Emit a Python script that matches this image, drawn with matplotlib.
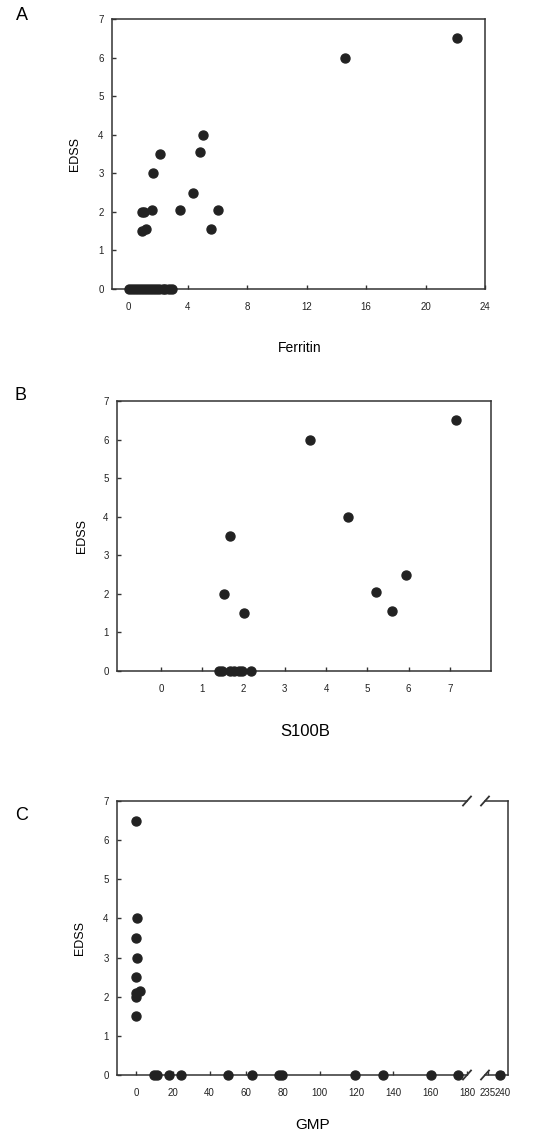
import matplotlib
matplotlib.use("Agg")
import matplotlib.pyplot as plt

# ---- data ----
ferritin = [14.6, 22.1, 5.05, 4.85, 2.15, 1.68, 4.33, 3.48, 6.05, 1.57, 0.9, 1.08, 0.9, 1.17, 5.56,
            0.05, 0.25, 0.45, 0.65, 0.85, 1.05, 1.25, 1.45, 1.65, 1.85, 2.05, 2.3, 2.5, 2.75, 2.95]
edss_a = [6.0, 6.5, 4.0, 3.55, 3.5, 3.0, 2.5, 2.05, 2.05, 2.05, 2.0, 2.0, 1.5, 1.55, 1.55,
          0, 0, 0, 0, 0, 0, 0, 0, 0, 0, 0, 0, 0, 0, 0]

s100b = [3.62, 7.16, 4.53, 1.68, 1.52, 2.02, 5.21, 5.61, 5.93,
         1.4, 1.48, 1.66, 1.76, 1.88, 1.96, 2.18]
edss_b = [6.0, 6.5, 4.0, 3.5, 2.0, 1.5, 2.05, 1.55, 2.5,
          0, 0, 0, 0, 0, 0, 0]

gmp = [0, 0.4, 0, 0.7, 0, 0, 0, 0.3, 2.2,
       9.8, 11.6, 18.1, 24.5, 50.3, 63.0, 78.0, 79.5, 118.9, 134.3, 160.4, 175.0, 239.0]
edss_c = [6.5, 4.0, 3.5, 3.0, 2.5, 2.0, 1.5, 2.1, 2.15,
          0, 0, 0, 0, 0, 0, 0, 0, 0, 0, 0, 0, 0]

ticks_a = [0, 4, 8, 12, 16, 20, 24]
ticks_b = [0, 1, 2, 3, 4, 5, 6, 7]
ticks_c1 = [0, 20, 40, 60, 80, 100, 120, 140, 160, 180]
ticks_c2 = [235, 240]
yticks = [0, 1, 2, 3, 4, 5, 6, 7]
break_at = 180

W, H = 554, 1145
fig = plt.figure(figsize=(W / 100, H / 100), dpi=100)
plt.rcParams['font.family'] = ['Liberation Sans', 'DejaVu Sans']

mc = '#222222'
ms = 42
sc = '#333333'


def px_axes(l, t, r, b):
    return fig.add_axes([l / W, 1 - b / H, (r - l) / W, (b - t) / H])


def style(ax):
    for s in ax.spines.values():
        s.set_color(sc)
        s.set_linewidth(1.1)
    ax.tick_params(direction='in', length=3, width=1, colors=sc, labelsize=7,
                   labelcolor='#222222', top=False, right=False)
    ax.tick_params(axis='x', pad=9)
    ax.tick_params(axis='y', pad=6)
    ax.set_ylim(0, 7)
    ax.set_yticks(yticks)


# Panel A
axA = px_axes(112, 19, 485, 289)
style(axA)
axA.scatter(ferritin, edss_a, s=ms, color=mc, zorder=3, clip_on=False)
axA.set_xlim(-1.1, 24)
axA.set_xticks(ticks_a)
fig.text(75 / W, 1 - 154 / H, 'EDSS', rotation=90, ha='center', va='center', fontsize=9)
fig.text(300 / W, 1 - 348 / H, 'Ferritin', ha='center', va='center', fontsize=10)
fig.text(22 / W, 1 - 16 / H, 'A', ha='center', va='center', fontsize=13)

# Panel B
axB = px_axes(117, 401, 491, 671)
style(axB)
axB.scatter(s100b, edss_b, s=ms, color=mc, zorder=3, clip_on=False)
axB.set_xlim(-1.07, 8.0)
axB.set_xticks(ticks_b)
fig.text(82 / W, 1 - 536 / H, 'EDSS', rotation=90, ha='center', va='center', fontsize=9)
fig.text(305 / W, 1 - 731 / H, 'S100B', ha='center', va='center', fontsize=12)
fig.text(20 / W, 1 - 396 / H, 'B', ha='center', va='center', fontsize=13)

# Panel C (broken x axis)
axC1 = px_axes(117, 801, 467, 1075)
axC2 = px_axes(485, 801, 508, 1075)
style(axC1)
style(axC2)
left_pts = [(g, e) for g, e in zip(gmp, edss_c) if g <= break_at]
right_pts = [(g, e) for g, e in zip(gmp, edss_c) if g > break_at]
axC1.scatter([p[0] for p in left_pts], [p[1] for p in left_pts], s=ms, color=mc, zorder=3, clip_on=False)
axC2.scatter([p[0] for p in right_pts], [p[1] for p in right_pts], s=ms, color=mc, zorder=3, clip_on=False)
axC1.set_xlim(-10.3, 180)
axC1.set_xticks(ticks_c1)
axC2.set_xlim(234, 241.7)
axC2.set_xticks(ticks_c2)
axC1.spines['right'].set_visible(False)
axC2.spines['left'].set_visible(False)
axC2.tick_params(axis='y', left=False, labelleft=False)

# break marks
for ax, xpos, sx in [(axC1, 1.0, 350), (axC2, 0.0, 23)]:
    kw = dict(transform=ax.transAxes, color=sc, lw=1.3, clip_on=False)
    dx = 4.0 / sx
    dy = 4.5 / 274
    ax.plot([xpos - dx, xpos + dx], [-dy, dy], **kw)
    ax.plot([xpos - dx, xpos + dx], [1 - dy, 1 + dy], **kw)

fig.text(80 / W, 1 - 938 / H, 'EDSS', rotation=90, ha='center', va='center', fontsize=9)
fig.text(313 / W, 1 - 1125 / H, 'GMP', ha='center', va='center', fontsize=11)
fig.text(22 / W, 1 - 816 / H, 'C', ha='center', va='center', fontsize=13)

fig.savefig('out.png', dpi=100)
